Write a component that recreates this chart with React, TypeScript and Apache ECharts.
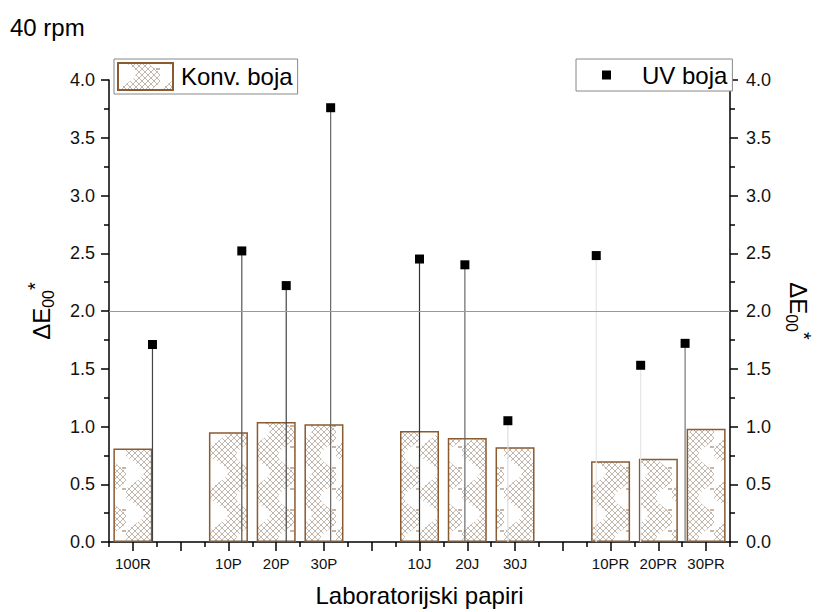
import React, { useEffect, useRef } from 'react';
import * as echarts from 'echarts';

// ---- data ----
const categories = ['100R', '', '10P', '20P', '30P', '', '10J', '20J', '30J', '', '10PR', '20PR', '30PR'];
const konvValues = [0.81, null, 0.95, 1.04, 1.02, null, 0.96, 0.9, 0.82, null, 0.7, 0.72, 0.98];
const uvPositions = [0.41, 2.28, 3.21, 4.14, 6.0, 6.95, 7.85, 9.7, 10.63, 11.56];
const uvValues = [1.71, 2.52, 2.22, 3.76, 2.45, 2.4, 1.05, 2.48, 1.53, 1.72];
const uvDropColors = ['#444', '#555', '#444', '#666', '#333', '#6a6a6a', '#dddddd', '#e6e6e6', '#e6e6e6', '#777'];
const thresholdValue = 2.0;

const FONT = '"Liberation Sans", Arial, Helvetica, sans-serif';

function makeTile(): HTMLCanvasElement {
  const w = 42;
  const h = 42;
  const c = document.createElement('canvas');
  c.width = w;
  c.height = h;
  const ctx = c.getContext('2d')!;
  ctx.fillStyle = '#ffffff';
  ctx.fillRect(0, 0, w, h);
  ctx.strokeStyle = 'rgba(135,115,95,0.65)';
  ctx.lineWidth = 0.8;
  const s = 6;
  for (let k = -h; k <= w + h; k += s) {
    ctx.beginPath();
    ctx.moveTo(k, 0);
    ctx.lineTo(k + h, h);
    ctx.stroke();
    ctx.beginPath();
    ctx.moveTo(k, h);
    ctx.lineTo(k + h, 0);
    ctx.stroke();
  }
  ctx.fillStyle = '#ffffff';
  ctx.beginPath();
  ctx.moveTo(0, 0);
  for (let y = 0; y <= h; y++) {
    const x = 8 + 10 * Math.sin((2 * Math.PI * y) / h);
    ctx.lineTo(Math.max(0, x), y);
  }
  ctx.lineTo(0, h);
  ctx.closePath();
  ctx.fill();
  ctx.beginPath();
  ctx.moveTo(w, 0);
  for (let y = 0; y <= h; y++) {
    const x = w - 7 - 9 * Math.sin((2 * Math.PI * y) / h + Math.PI * 0.8);
    ctx.lineTo(Math.min(w, x), y);
  }
  ctx.lineTo(w, h);
  ctx.closePath();
  ctx.fill();
  ctx.strokeStyle = 'rgba(120,70,30,0.8)';
  ctx.lineWidth = 1.2;
  ctx.beginPath();
  ctx.moveTo(w - 4, 6);
  ctx.lineTo(w, 6);
  ctx.moveTo(w - 4, 27);
  ctx.lineTo(w, 27);
  ctx.stroke();
  return c;
}

function yAxisCfg(position: 'left' | 'right', margin: number, nameRotate: number, nameGap: number) {
  return {
    type: 'value',
    position,
    min: 0,
    max: 4,
    interval: 0.5,
    name: '{b|ΔE}{s|00}{a|*}',
    nameLocation: 'middle',
    nameRotate,
    nameGap,
    nameTextStyle: {
      fontFamily: FONT,
      color: '#000',
      rich: {
        b: { fontSize: 24, fontFamily: FONT, color: '#000' },
        s: { fontSize: 16, fontFamily: FONT, color: '#000', padding: [14, 0, 0, 0] },
        a: { fontSize: 20, fontFamily: FONT, color: '#000', padding: [0, 0, 12, 0] },
      },
    },
    axisLine: { show: true, onZero: false, lineStyle: { color: '#000', width: 1.5 } },
    axisTick: { show: true, inside: false, length: 8, lineStyle: { color: '#000', width: 1.5 } },
    minorTick: { show: true, splitNumber: 2, length: 5, lineStyle: { color: '#000', width: 1.5 } },
    splitLine: { show: false },
    minorSplitLine: { show: false },
    axisLabel: {
      margin,
      fontSize: 18,
      fontFamily: FONT,
      color: '#111',
      formatter: (v: number) => v.toFixed(1),
    },
  };
}

export default function App() {
  const ref = useRef<HTMLDivElement>(null);

  useEffect(() => {
    const chart = echarts.init(ref.current!, null, { renderer: 'svg' });
    const tile = makeTile();
    const pattern: any = {
      image: tile.toDataURL(),
      repeat: 'repeat',
      imageWidth: tile.width,
      imageHeight: tile.height,
    };
    const uvData = uvPositions.map((x, i) => [x, uvValues[i]]);

    const option: any = {
      animation: false,
      backgroundColor: '#ffffff',
      title: {
        text: '40 rpm',
        left: 10,
        top: 15,
        padding: 0,
        textStyle: { fontSize: 24, fontWeight: 'normal', color: '#000', fontFamily: FONT },
      },
      legend: [
        {
          data: ['Konv. boja'],
          left: 114,
          top: 59,
          orient: 'horizontal',
          icon: 'rect',
          symbolKeepAspect: false,
          itemWidth: 55,
          itemHeight: 27,
          padding: [3, 5, 3, 3],
          borderColor: '#888',
          borderWidth: 1,
          backgroundColor: '#fff',
          selectedMode: false,
          textStyle: { fontSize: 24, color: '#000', fontFamily: FONT, padding: [0, 0, 0, 3] },
        },
        {
          data: ['UV boja'],
          left: 576,
          top: 59,
          orient: 'horizontal',
          icon: 'rect',
          itemWidth: 9,
          itemHeight: 9,
          padding: [4, 5, 4, 26],
          borderColor: '#888',
          borderWidth: 1,
          backgroundColor: '#fff',
          selectedMode: false,
          itemStyle: { opacity: 1, color: '#000' },
          textStyle: { fontSize: 24, color: '#000', fontFamily: FONT, padding: [0, 0, 0, 26] },
        },
      ],
      grid: { left: 109, top: 80, width: 628, height: 462, containLabel: false },
      xAxis: [
        {
          type: 'category',
          data: categories,
          position: 'bottom',
          boundaryGap: true,
          name: 'Laboratorijski papiri',
          nameLocation: 'middle',
          nameGap: 41,
          nameTextStyle: { fontSize: 24, color: '#000', fontFamily: FONT },
          axisLine: { show: true, onZero: false, lineStyle: { color: '#000', width: 1.5 } },
          axisTick: { show: true, alignWithLabel: true, interval: 0, length: 9, lineStyle: { color: '#000', width: 1.5 } },
          axisLabel: { interval: 0, fontSize: 15, margin: 14, color: '#111', fontFamily: FONT },
          splitLine: { show: false },
        },
        {
          type: 'category',
          data: categories,
          position: 'bottom',
          boundaryGap: true,
          axisLine: { show: false, onZero: false },
          axisTick: { show: true, alignWithLabel: false, interval: 0, length: 5, lineStyle: { color: '#000', width: 1.5 } },
          axisLabel: { show: false },
          splitLine: { show: false },
        },
        {
          type: 'value',
          min: -0.5,
          max: 12.5,
          show: false,
          axisLine: { onZero: false },
          splitLine: { show: false },
        },
      ],
      yAxis: [yAxisCfg('left', 14, 90, 52), yAxisCfg('right', 16, -90, 52)],
      series: [
        {
          name: 'Konv. boja',
          type: 'bar',
          xAxisIndex: 0,
          yAxisIndex: 0,
          barWidth: 39,
          data: konvValues,
          itemStyle: { color: pattern, borderColor: '#8a5a30', borderWidth: 1.5 },
          markLine: {
            silent: true,
            symbol: ['none', 'none'],
            label: { show: false },
            lineStyle: { color: '#999', width: 1, type: 'solid' },
            data: [{ yAxis: thresholdValue }],
          },
          z: 2,
        },
        {
          name: 'drops',
          type: 'custom',
          coordinateSystem: 'cartesian2d',
          xAxisIndex: 2,
          yAxisIndex: 0,
          encode: { x: 0, y: 1 },
          data: uvData,
          z: 3,
          renderItem: (params: any, api: any) => {
            const top = api.coord([api.value(0), api.value(1)]);
            const bottom = api.coord([api.value(0), 0]);
            return {
              type: 'line',
              shape: { x1: top[0], y1: top[1], x2: bottom[0], y2: bottom[1] },
              style: { stroke: uvDropColors[params.dataIndex], lineWidth: 1.2 },
            };
          },
        },
        {
          name: 'UV boja',
          type: 'scatter',
          xAxisIndex: 2,
          yAxisIndex: 0,
          symbol: 'rect',
          symbolSize: 9,
          data: uvData,
          itemStyle: { color: '#000', opacity: 1 },
          z: 4,
        },
      ],
    };
    chart.setOption(option);
    return () => chart.dispose();
  }, []);

  return (
    <div
      ref={ref}
      style={{ position: 'absolute', left: 0, top: 0, width: 822, height: 612, background: '#fff' }}
    />
  );
}
